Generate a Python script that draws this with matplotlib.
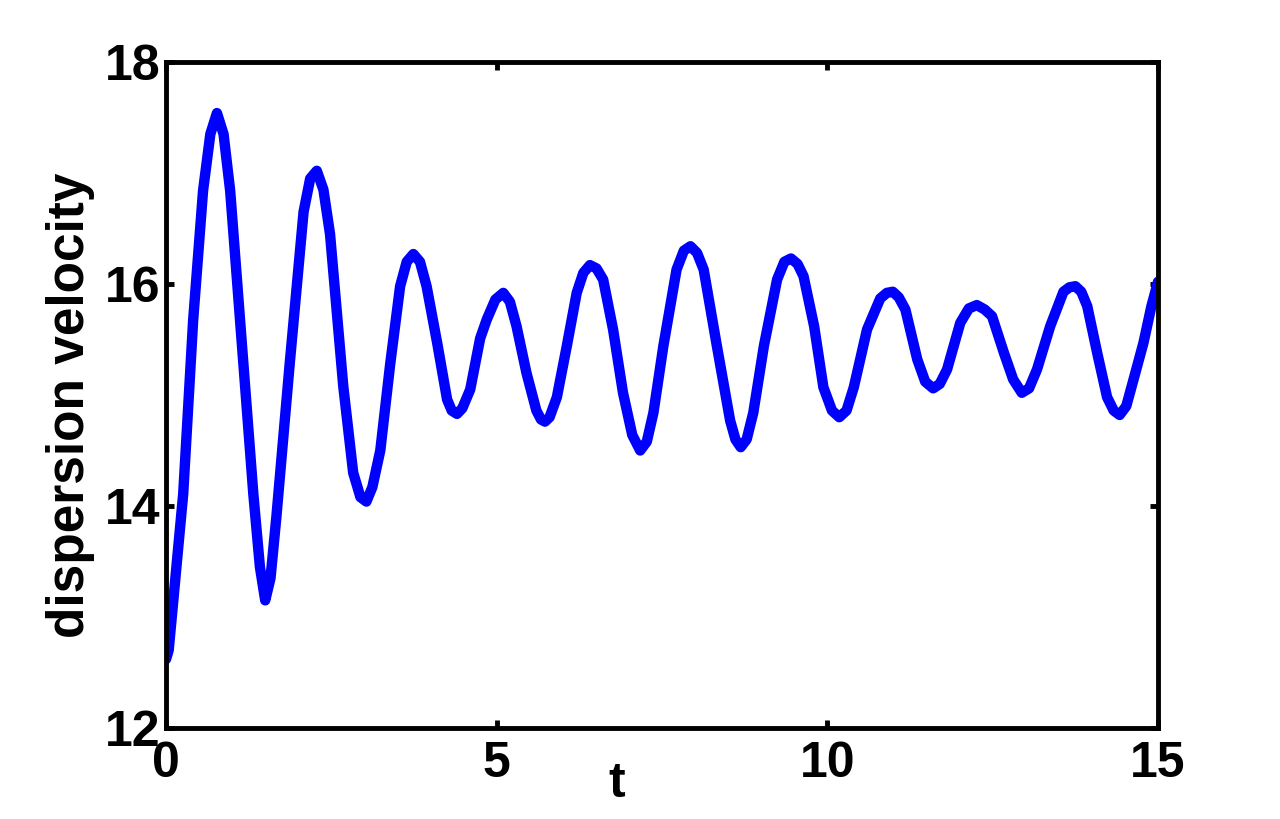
"""Dispersion velocity vs time (MATLAB-style figure)."""

import matplotlib.pyplot as plt

plt.rcParams["font.family"] = ["Liberation Sans", "DejaVu Sans"]
plt.rcParams["font.weight"] = "bold"

# values
t = [
    0.00, 0.04, 0.26, 0.41, 0.56, 0.67, 0.77, 0.87, 0.97, 1.17, 1.32, 1.42,
    1.50, 1.58, 1.67, 1.87, 2.08, 2.18, 2.28, 2.38, 2.48, 2.68, 2.83, 2.94,
    3.03, 3.12, 3.24, 3.39, 3.54, 3.64, 3.74, 3.84, 3.94, 4.10, 4.25, 4.32,
    4.40, 4.48, 4.60, 4.75, 4.85, 4.98, 5.10, 5.20, 5.30, 5.45, 5.60, 5.67,
    5.73, 5.80, 5.91, 6.06, 6.21, 6.31, 6.41, 6.51, 6.61, 6.76, 6.91, 7.05,
    7.17, 7.27, 7.37, 7.52, 7.72, 7.83, 7.93, 8.03, 8.13, 8.33, 8.53, 8.61,
    8.69, 8.78, 8.88, 9.04, 9.24, 9.35, 9.45, 9.55, 9.64, 9.80, 9.94, 10.07,
    10.18, 10.29, 10.40, 10.60, 10.80, 10.90, 10.99, 11.08, 11.18, 11.36,
    11.48, 11.60, 11.70, 11.81, 12.01, 12.14, 12.26, 12.38, 12.49, 12.67,
    12.81, 12.94, 13.05, 13.17, 13.37, 13.57, 13.66, 13.75, 13.84, 13.93,
    14.08, 14.23, 14.33, 14.42, 14.52, 14.63, 14.78, 14.90, 15.00,
]
dispersion_velocity = [
    12.62, 12.70, 14.11, 15.67, 16.84, 17.35, 17.54, 17.35, 16.84, 15.28,
    14.11, 13.45, 13.15, 13.35, 13.91, 15.28, 16.65, 16.95, 17.02, 16.85,
    16.45, 15.08, 14.30, 14.08, 14.04, 14.17, 14.50, 15.28, 15.98, 16.20,
    16.27, 16.20, 15.98, 15.47, 14.96, 14.86, 14.83, 14.88, 15.05, 15.51,
    15.68, 15.86, 15.92, 15.84, 15.62, 15.20, 14.86, 14.78, 14.76, 14.80,
    14.98, 15.44, 15.92, 16.10, 16.17, 16.14, 16.04, 15.59, 15.02, 14.64,
    14.50, 14.58, 14.84, 15.44, 16.13, 16.30, 16.34, 16.28, 16.13, 15.44,
    14.77, 14.60, 14.53, 14.60, 14.84, 15.44, 16.04, 16.20, 16.23, 16.18,
    16.07, 15.62, 15.07, 14.86, 14.80, 14.86, 15.07, 15.59, 15.87, 15.92,
    15.93, 15.88, 15.77, 15.32, 15.12, 15.06, 15.10, 15.23, 15.65, 15.78,
    15.81, 15.77, 15.71, 15.38, 15.14, 15.02, 15.06, 15.23, 15.62, 15.93,
    15.97, 15.98, 15.93, 15.80, 15.38, 14.98, 14.86, 14.82, 14.90, 15.14,
    15.47, 15.80, 16.02,
]
x_ticks = [0, 5, 10, 15]
y_ticks = [12, 14, 16, 18]

fig = plt.figure(figsize=(12.8, 8.19), dpi=100)
ax = fig.add_axes([0.1297, 0.1111, 0.775, 0.8132])

ax.plot(
    t,
    dispersion_velocity,
    color="#0000ff",
    linewidth=7.5,
    solid_joinstyle="round",
    solid_capstyle="round",
)

ax.set_xlim(0, 15)
ax.set_ylim(12, 18)
ax.set_xticks(x_ticks)
ax.set_yticks(y_ticks)

# рамка и засечки внутрь со всех сторон
for spine in ax.spines.values():
    spine.set_linewidth(3.5)
ax.tick_params(
    direction="in",
    length=6,
    width=3.5,
    labelsize=36,
    top=True,
    right=True,
)
ax.tick_params(axis="x", pad=9)
ax.tick_params(axis="y", pad=4)

ax.set_xlabel("t", fontsize=36, fontweight="bold")
ax.set_ylabel("dispersion velocity", fontsize=37, fontweight="bold")
ax.xaxis.set_label_coords(0.4546, -0.05)
ax.yaxis.set_label_coords(-0.072, 0.485)

plt.savefig("out.png", dpi=100)
